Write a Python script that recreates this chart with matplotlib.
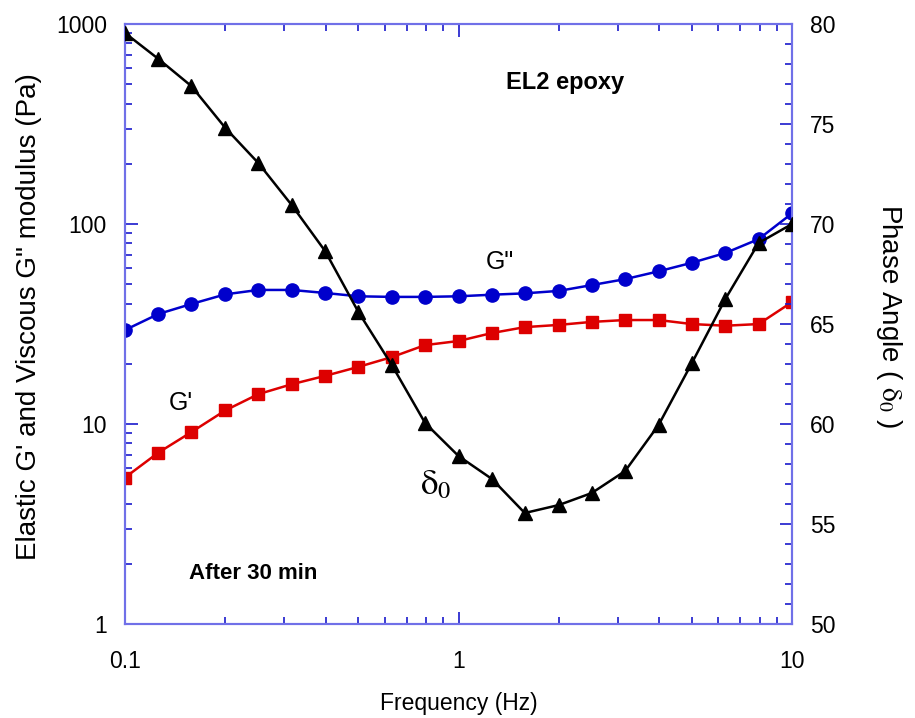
import numpy as np
import matplotlib
matplotlib.use("Agg")
import matplotlib.pyplot as plt
from matplotlib.ticker import FixedLocator, FixedFormatter, MultipleLocator, NullFormatter

plt.rcParams['font.family'] = ['Liberation Sans', 'DejaVu Sans']
plt.rcParams['mathtext.fontset'] = 'stix'

# data
freq = [0.1, 0.126, 0.158, 0.2, 0.251, 0.316, 0.398, 0.501, 0.631, 0.794,
        1.0, 1.26, 1.58, 2.0, 2.51, 3.16, 3.98, 5.01, 6.31, 7.94, 10.0]
g_viscous = [29.5, 35.5, 39.8, 44.5, 46.8, 46.8, 45.2, 43.5, 43.2, 43.2,
             43.5, 44.3, 45.0, 46.3, 49.5, 53.0, 58.0, 64.0, 71.6, 84.0, 113.0]
g_elastic = [5.4, 7.2, 9.1, 11.7, 14.1, 15.8, 17.4, 19.3, 21.6, 24.8,
             26.0, 28.5, 30.5, 31.3, 32.4, 33.1, 33.1, 31.6, 31.0, 31.6, 40.7]
phase = [79.55, 78.25, 76.9, 74.8, 73.05, 70.95, 68.65, 65.6, 62.95, 60.05,
         58.4, 57.25, 55.55, 55.95, 56.55, 57.65, 59.95, 63.05, 66.25, 69.05, 70.0]

spine_col = '#7070e8'
tick_col = '#1a1acc'

fig = plt.figure(figsize=(9.15, 7.18), dpi=100)
ax = fig.add_axes([0.1366, 0.1309, 0.7290, 0.8357])

ax.plot(freq, g_viscous, '-o', color='#0000cc', lw=1.8, ms=9.5, zorder=3)
ax.plot(freq, g_elastic, '-s', color='#dd0000', lw=1.8, ms=9, zorder=3)

ax.set_xscale('log')
ax.set_yscale('log')
ax.set_xlim(0.1, 10)
ax.set_ylim(1, 1000)

ax.xaxis.set_major_locator(FixedLocator([0.1, 1, 10]))
ax.xaxis.set_major_formatter(FixedFormatter(['0.1', '1', '10']))
ax.xaxis.set_minor_locator(FixedLocator([m * d for d in (0.1, 1) for m in range(2, 10)]))
ax.xaxis.set_minor_formatter(NullFormatter())
ax.yaxis.set_major_locator(FixedLocator([1, 10, 100, 1000]))
ax.yaxis.set_major_formatter(FixedFormatter(['1', '10', '100', '1000']))
ax.yaxis.set_minor_locator(FixedLocator([m * d for d in (1, 10, 100) for m in range(2, 10)]))
ax.yaxis.set_minor_formatter(NullFormatter())

ax.tick_params(which='both', direction='in', colors=tick_col, labelcolor='black',
               top=True, right=False, labelsize=16.5)
ax.tick_params(which='major', length=9, width=1.2)
ax.tick_params(which='minor', length=5, width=1.2)
ax.tick_params(axis='x', pad=19)
ax.tick_params(axis='y', pad=13)

ax.set_xlabel('Frequency (Hz)', fontsize=16.5, va='center')
ax.xaxis.set_label_coords(0.5, -0.133)
ax.set_ylabel("Elastic G' and Viscous G\" modulus (Pa)", fontsize=20, va='center')
ax.yaxis.set_label_coords(-0.144, 0.513)

ax2 = ax.twinx()
ax2.plot(freq, phase, '-^', color='black', lw=1.8, ms=10, zorder=4)
ax2.set_ylim(50, 80)
ax2.yaxis.set_major_locator(MultipleLocator(5))
ax2.yaxis.set_minor_locator(MultipleLocator(1))
ax2.tick_params(which='both', direction='in', colors=tick_col, labelcolor='black',
                labelsize=16.5, pad=13)
ax2.tick_params(which='major', length=9, width=1.2)
ax2.tick_params(which='minor', length=5, width=1.2)
ax2.set_ylabel('Phase Angle ( $\\mathrm{\\delta}_0$ )', fontsize=20, rotation=270,
               va='center')
ax2.yaxis.set_label_coords(1.145, 0.513)

for a in (ax, ax2):
    for s in a.spines.values():
        s.set_color(spine_col)
        s.set_linewidth(1.5)

ax.text(0.659, 0.902, 'EL2 epoxy', transform=ax.transAxes, fontsize=17,
        fontweight='bold', ha='center', va='center')
ax.text(0.192, 0.085, 'After 30 min', transform=ax.transAxes, fontsize=16,
        fontweight='bold', ha='center', va='center')
ax.text(0.562, 0.603, 'G"', transform=ax.transAxes, fontsize=18,
        ha='center', va='center')
ax.text(0.084, 0.368, "G'", transform=ax.transAxes, fontsize=18,
        ha='center', va='center')
ax.text(0.466, 0.232, '$\\mathrm{\\delta}_0$', transform=ax.transAxes, fontsize=25,
        ha='center', va='center')

fig.savefig('out.png', dpi=100)
